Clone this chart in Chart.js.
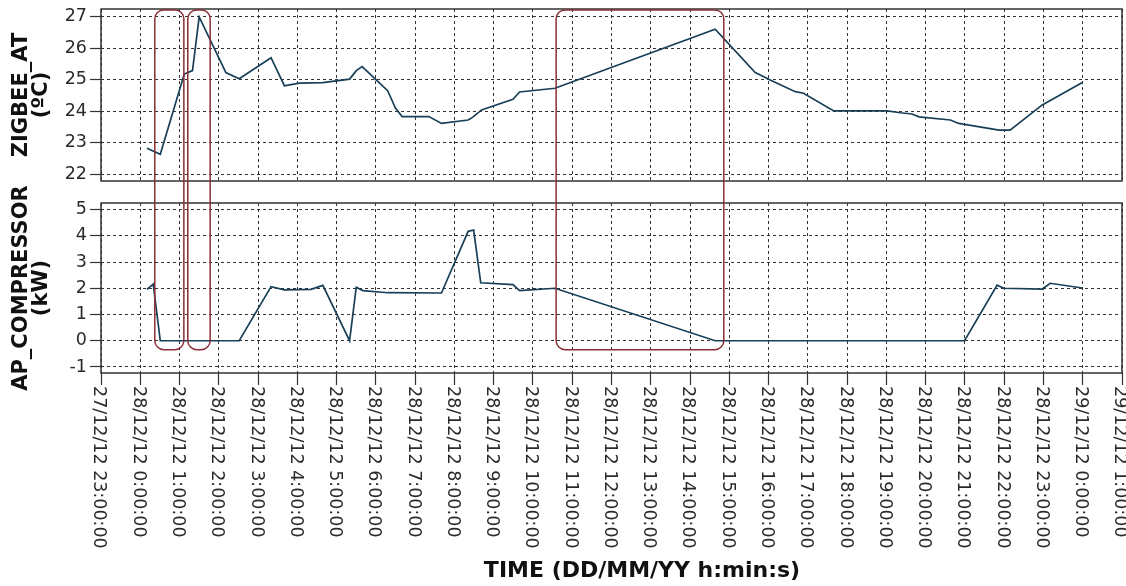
<!DOCTYPE html>
<html>
<head>
<meta charset="utf-8">
<script src="https://cdn.jsdelivr.net/npm/chart.js@4.4.0/dist/chart.umd.min.js"></script>
<style>
  body { margin: 0; background: #fff; }
  #wrap { position: relative; width: 1126px; height: 586px; }
  #wrap canvas { position: absolute; left: 0; top: 0; }
</style>
</head>
<body>
<div id="wrap">
  <canvas id="powerChart" width="1126" height="586"></canvas>
  <canvas id="tempChart" width="1126" height="586"></canvas>
</div>
<script>
// giờ tính từ 27/12/12 23:00:00
const hourTicks = [0, 1, 2, 3, 4, 5, 6, 7, 8, 9, 10, 11, 12, 13, 14, 15, 16, 17, 18, 19, 20, 21, 22, 23, 24, 25, 26];
const timeLabels = [
    '27/12/12 23:00:00', '28/12/12 0:00:00', '28/12/12 1:00:00', '28/12/12 2:00:00',
    '28/12/12 3:00:00', '28/12/12 4:00:00', '28/12/12 5:00:00', '28/12/12 6:00:00',
    '28/12/12 7:00:00', '28/12/12 8:00:00', '28/12/12 9:00:00', '28/12/12 10:00:00',
    '28/12/12 11:00:00', '28/12/12 12:00:00', '28/12/12 13:00:00', '28/12/12 14:00:00',
    '28/12/12 15:00:00', '28/12/12 16:00:00', '28/12/12 17:00:00', '28/12/12 18:00:00',
    '28/12/12 19:00:00', '28/12/12 20:00:00', '28/12/12 21:00:00', '28/12/12 22:00:00',
    '28/12/12 23:00:00', '29/12/12 0:00:00', '29/12/12 1:00:00'
];
const xTitle = 'TIME (DD/MM/YY h:min:s)';

// ZIGBEE_AT (ºC)
const tempHours = [1.17, 1.51, 2.12, 2.33, 2.50, 3.18, 3.52, 4.33, 4.67, 5.05, 5.65, 6.33, 6.50, 6.65,
    7.30, 7.50, 7.67, 8.35, 8.67, 9.35, 9.47, 9.69, 10.49, 10.66, 11.56, 15.64, 16.66, 16.79, 17.04,
    17.68, 17.89, 18.66, 20.02, 20.36, 20.65, 20.83, 21.63, 21.84, 22.87, 23.15, 23.97, 24.99];
const tempValues = [22.82, 22.63, 25.18, 25.29, 27.0, 25.23, 25.03, 25.70, 24.81, 24.89, 24.91, 25.02, 25.29, 25.42,
    24.65, 24.09, 23.83, 23.83, 23.61, 23.72, 23.81, 24.04, 24.38, 24.61, 24.73, 26.61, 25.23, 25.15, 24.99,
    24.62, 24.57, 24.01, 24.01, 23.95, 23.91, 23.82, 23.72, 23.61, 23.40, 23.40, 24.20, 24.91];
const tempTicks = [22, 23, 24, 25, 26, 27];

// AP_COMPRESSOR (kW)
const powerHours = [1.17, 1.33, 1.51, 3.52, 4.33, 4.67, 5.35, 5.65, 6.33, 6.50, 6.67, 7.30, 8.67, 9.35, 9.49,
    9.67, 10.49, 10.66, 11.56, 15.64, 21.99, 22.82, 22.99, 23.97, 24.17, 24.99];
const powerValues = [1.96, 2.16, 0, 0, 2.06, 1.94, 1.96, 2.11, 0, 2.04, 1.91, 1.83, 1.82, 4.17, 4.22,
    2.21, 2.14, 1.91, 2.0, 0, 0, 2.12, 2.0, 1.97, 2.19, 2.01];
const powerTicks = [-1, 0, 1, 2, 3, 4, 5];

// khung đỏ đánh dấu (giờ bắt đầu / kết thúc)
const boxStart = [1.37, 2.21, 11.59];
const boxEnd = [2.11, 2.78, 15.86];
const boxTopTemp = 27.22;
const boxBottomPower = -0.34;

Chart.defaults.font.family = "'DejaVu Sans', Verdana, sans-serif";

const lineColor = '#183f58';
const gridColor = '#333';

// viền khung của vùng vẽ
const framePlugin = {
    id: 'frame',
    afterDraw(chart) {
        const { ctx, chartArea: a } = chart;
        ctx.save();
        ctx.strokeStyle = '#333';
        ctx.lineWidth = 1.5;
        ctx.strokeRect(a.left, a.top, a.right - a.left, a.bottom - a.top);
        ctx.restore();
    }
};

// nhãn thời gian xoay dọc (đọc từ trên xuống)
const timeLabelPlugin = {
    id: 'timeLabels',
    afterDraw(chart) {
        const { ctx } = chart;
        const xs = chart.scales.x;
        ctx.save();
        ctx.fillStyle = '#2a2a2a';
        ctx.font = "17.5px 'DejaVu Sans', Verdana, sans-serif";
        ctx.textAlign = 'left';
        ctx.textBaseline = 'middle';
        hourTicks.forEach((h, i) => {
            ctx.save();
            ctx.translate(xs.getPixelForValue(h) - 2, chart.chartArea.bottom + 13);
            ctx.rotate(Math.PI / 2);
            ctx.fillText(timeLabels[i], 0, 0);
            ctx.restore();
        });
        ctx.fillStyle = '#111';
        ctx.font = "bold 22px 'DejaVu Sans', Verdana, sans-serif";
        ctx.textAlign = 'center';
        ctx.fillText(xTitle, 642, 571);
        ctx.restore();
    }
};

function yScale(ticks, min, max, title) {
    return {
        min: min,
        max: max,
        afterBuildTicks: s => { s.ticks = ticks.map(v => ({ value: v })); },
        afterFit: s => { s.width = 101; s.paddingTop = 0; s.paddingBottom = 0; },
        grid: { color: gridColor, lineWidth: 1, tickColor: '#333', tickLength: 11, tickWidth: 1.2 },
        border: { display: false, dash: [3, 3] },
        ticks: { color: '#2a2a2a', font: { size: 17.5 }, padding: 3 },
        title: {
            display: true, text: title, color: '#111',
            font: { size: 21, weight: 'bold', lineHeight: 0.95 },
            padding: { top: 12, bottom: 0 }
        }
    };
}

function xScale(height, drawTicks) {
    return {
        type: 'linear',
        min: 0,
        max: 26,
        afterBuildTicks: s => { s.ticks = hourTicks.map(v => ({ value: v })); },
        afterFit: s => { s.height = height; s.paddingLeft = 0; s.paddingRight = 0; },
        grid: { color: gridColor, lineWidth: 1, drawTicks: drawTicks, tickLength: 12, tickColor: '#333', tickWidth: 1.2 },
        border: { display: false, dash: [3, 3] },
        ticks: { display: false }
    };
}

function baseOptions(padding, x, y) {
    return {
        responsive: false,
        animation: false,
        events: [],
        layout: { padding: padding },
        plugins: { legend: { display: false }, tooltip: { enabled: false } },
        scales: { x: x, y: y }
    };
}

const powerChart = new Chart(document.getElementById('powerChart'), {
    type: 'line',
    data: {
        datasets: [{
            data: powerHours.map((h, i) => ({ x: h, y: powerValues[i] })),
            borderColor: lineColor,
            borderWidth: 1.7,
            pointRadius: 0,
            tension: 0
        }]
    },
    options: baseOptions(
        { top: 203, right: 4, left: 0, bottom: 0 },
        xScale(213, true),
        yScale(powerTicks, -1.23, 5.25, ['AP_COMPRESSOR', '(kW)'])
    ),
    plugins: [framePlugin, timeLabelPlugin]
});

// khung đỏ vẽ trên canvas phía trên
const highlightPlugin = {
    id: 'highlights',
    afterDraw(chart) {
        const { ctx } = chart;
        const xs = chart.scales.x;
        const top = chart.scales.y.getPixelForValue(boxTopTemp);
        const bottom = powerChart.scales.y.getPixelForValue(boxBottomPower);
        ctx.save();
        ctx.strokeStyle = '#8a2f35';
        ctx.lineWidth = 1.5;
        boxStart.forEach((s, i) => {
            const l = xs.getPixelForValue(s);
            const r = xs.getPixelForValue(boxEnd[i]);
            ctx.beginPath();
            ctx.roundRect(l, top, r - l, bottom - top, 9);
            ctx.stroke();
        });
        ctx.restore();
    }
};

const tempChart = new Chart(document.getElementById('tempChart'), {
    type: 'line',
    data: {
        datasets: [{
            data: tempHours.map((h, i) => ({ x: h, y: tempValues[i] })),
            borderColor: lineColor,
            borderWidth: 1.7,
            pointRadius: 0,
            tension: 0
        }]
    },
    options: baseOptions(
        { top: 9, right: 4, left: 0, bottom: 405 },
        xScale(0, false),
        yScale(tempTicks, 21.78, 27.25, ['ZIGBEE_AT', '(ºC)'])
    ),
    plugins: [framePlugin, highlightPlugin]
});
</script>
</body>
</html>
